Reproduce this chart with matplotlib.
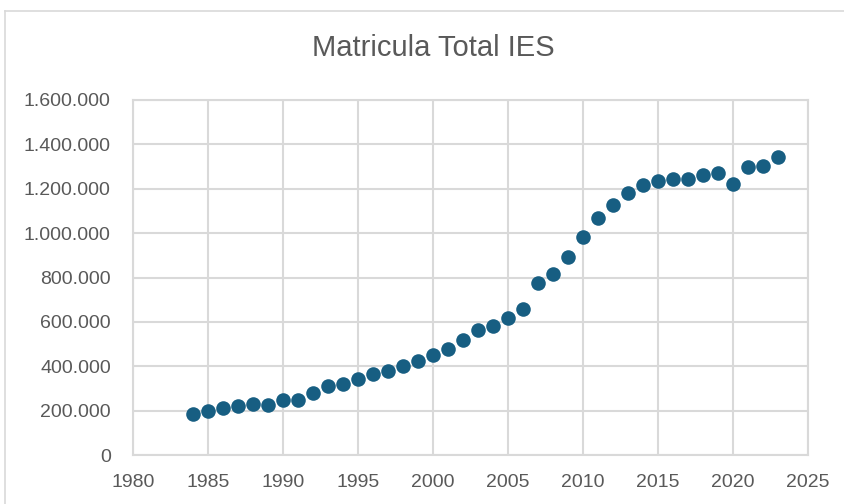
import matplotlib
matplotlib.use("Agg")
import matplotlib.pyplot as plt
from matplotlib.ticker import FuncFormatter, MultipleLocator
from matplotlib.lines import Line2D

years = list(range(1984, 2024))
matricula = [187000, 198000, 211000, 222000, 229000, 225000, 247000, 247000,
             280000, 313000, 322000, 341000, 363000, 379000, 401000, 422000,
             449000, 479000, 520000, 565000, 581000, 616000, 659000, 774000,
             817000, 891000, 984000, 1068000, 1127000, 1183000, 1217000, 1233000,
             1246000, 1246000, 1263000, 1269000, 1221000, 1296000, 1303000, 1344000]

title = "Matricula Total IES"
text_color = "#595959"
grid_color = "#d9d9d9"
marker_color = "#175E82"

plt.rcParams['font.family'] = ['Liberation Sans', 'DejaVu Sans']

fig = plt.figure(figsize=(8.45, 5.04), dpi=100)
ax = fig.add_axes([133/845, 1-455/504, (808-133)/845, (455-100)/504])

ax.scatter(years, matricula, s=110, color=marker_color, zorder=3, linewidths=0)

ax.set_xlim(1980, 2025)
ax.set_ylim(0, 1600000)
ax.xaxis.set_major_locator(MultipleLocator(5))
ax.yaxis.set_major_locator(MultipleLocator(200000))

def fmt(v, pos):
    return f"{int(v):,}".replace(",", ".")
ax.yaxis.set_major_formatter(FuncFormatter(fmt))

ax.grid(True, color=grid_color, linewidth=1.5, zorder=0)
ax.set_axisbelow(True)
for sp in ax.spines.values():
    sp.set_color(grid_color)
    sp.set_linewidth(1.5)
ax.tick_params(axis='both', length=0, labelsize=14, colors=text_color)
ax.tick_params(axis='y', pad=16)
ax.tick_params(axis='x', pad=14)

fig.text(433/845, 1-48/504, title, ha='center', va='center', fontsize=21, color=text_color)

# outer chart frame
fig.add_artist(Line2D([5/845, 1], [1-11/504, 1-11/504], color='#d9d9d9', linewidth=1.2, transform=fig.transFigure))
fig.add_artist(Line2D([5/845, 5/845], [0, 1-11/504], color='#d9d9d9', linewidth=1.2, transform=fig.transFigure))

fig.savefig("out.png", dpi=100, facecolor='white')
